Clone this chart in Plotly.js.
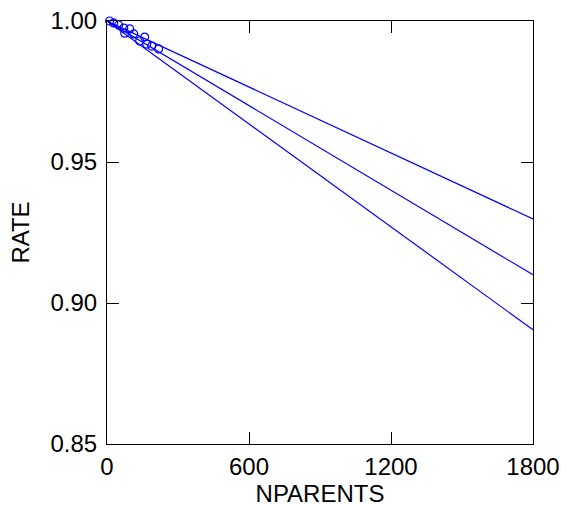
<!DOCTYPE html>
<html>
<head>
<meta charset="utf-8">
<script src="https://cdn.plot.ly/plotly-3.0.1.min.js"></script>
<style>html,body{margin:0;padding:0;background:#fff;}#chart{width:561px;height:507px;}</style>
</head>
<body>
<div id="chart"></div>
<script>
// observed points
const nparents = [11, 28, 49, 71, 75, 96, 113, 138, 159, 168, 189, 218];
const rate = [1.0000, 0.9993, 0.9986, 0.9975, 0.9957, 0.9972, 0.9954, 0.9929, 0.9943, 0.9918, 0.9911, 0.9901];
// fitted line and bounds (endpoints)
const lineX = [0, 1800];
const upperY = [1.0, 0.9298];
const fitY = [1.0, 0.9100];
const lowerY = [1.0, 0.8905];
const xTicks = [0, 600, 1200, 1800];
const yTicks = [0.85, 0.90, 0.95, 1.00];

const blue = '#0000ff';
const traces = [
  {x: lineX, y: upperY, mode: 'lines', line: {color: blue, width: 1.2}, hoverinfo: 'skip'},
  {x: lineX, y: fitY, mode: 'lines', line: {color: blue, width: 1.2}, hoverinfo: 'skip'},
  {x: lineX, y: lowerY, mode: 'lines', line: {color: blue, width: 1.2}, hoverinfo: 'skip'},
  {x: nparents, y: rate, mode: 'markers', cliponaxis: false,
   marker: {symbol: 'circle-open', size: 8, color: blue, line: {width: 1.2, color: blue}}}
];
const font = {family: 'Liberation Sans, Arial, sans-serif', size: 24, color: '#000'};
const layout = {
  width: 561, height: 507,
  margin: {l: 107, r: 28, t: 21, b: 63},
  paper_bgcolor: '#fff', plot_bgcolor: '#fff',
  showlegend: false,
  font: font,
  xaxis: {
    range: [0, 1800], tickvals: xTicks, ticktext: xTicks.map(String),
    ticks: 'inside', ticklen: 12, tickcolor: '#000', tickwidth: 1,
    showline: true, linecolor: '#000', linewidth: 1, mirror: 'ticks',
    showgrid: false, zeroline: false, tickfont: font, ticklabelstandoff: 1,
    title: {text: 'NPARENTS', font: font, standoff: 2}
  },
  yaxis: {
    range: [0.85, 1.0], tickvals: yTicks, ticktext: yTicks.map(v => v.toFixed(2)),
    ticks: 'inside', ticklen: 12, tickcolor: '#000', tickwidth: 1,
    showline: true, linecolor: '#000', linewidth: 1, mirror: 'ticks',
    showgrid: false, zeroline: false, tickfont: font, ticklabelstandoff: 4,
    title: {text: 'RATE', font: font, standoff: 14}
  }
};
Plotly.newPlot('chart', traces, layout, {staticPlot: true, displayModeBar: false});
</script>
</body>
</html>
